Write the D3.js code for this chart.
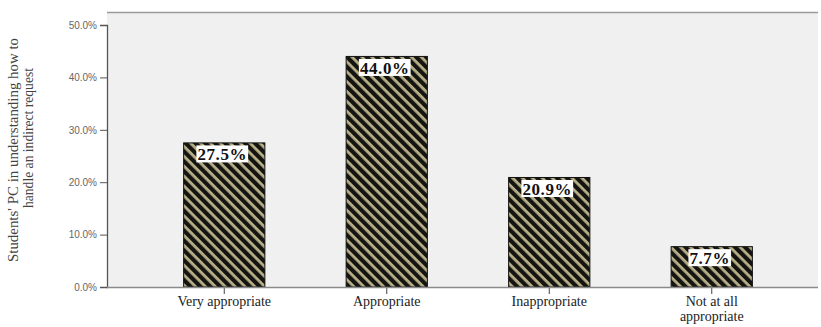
<!DOCTYPE html>
<html>
<head>
<meta charset="utf-8">
<script src="https://cdn.jsdelivr.net/npm/d3@7"></script>
<style>
  body { margin: 0; background: #fff; }
</style>
</head>
<body>
<svg id="chart" width="821" height="327"></svg>
<script>
// categories and values (percent of students)
const categories = ["Very appropriate", "Appropriate", "Inappropriate", "Not at all appropriate"];
const catLines = [["Very appropriate"], ["Appropriate"], ["Inappropriate"], ["Not at all", "appropriate"]];
const values = [27.5, 44.0, 20.9, 7.7];
const yTicks = [0, 10, 20, 30, 40, 50];
const yTitle = ["Students' PC in understanding how to", "handle an indirect request"];

const svg = d3.select("#chart");
const plot = { left: 107, right: 818, top: 12, bottom: 287 };

// hatch pattern
const defs = svg.append("defs");
const pat = defs.append("pattern")
  .attr("id", "hatch")
  .attr("patternUnits", "userSpaceOnUse")
  .attr("width", 7)
  .attr("height", 7)
  .attr("patternTransform", "rotate(-45)");
pat.append("rect").attr("width", 7).attr("height", 7).attr("fill", "#b9b08a");
pat.append("rect").attr("width", 4.2).attr("height", 7).attr("fill", "#141410");

// plot background
svg.append("rect")
  .attr("x", plot.left).attr("y", plot.top)
  .attr("width", plot.right - plot.left).attr("height", plot.bottom - plot.top)
  .attr("fill", "#f0f0f0");
svg.append("line")
  .attr("x1", plot.left).attr("x2", plot.right)
  .attr("y1", plot.top + 0.5).attr("y2", plot.top + 0.5)
  .attr("stroke", "#9a9a9a").attr("stroke-width", 1.5);

const x = d3.scaleBand()
  .domain(categories)
  .range([143, 793])
  .paddingInner(0.5)
  .paddingOuter(0.25);

const y = d3.scaleLinear()
  .domain([0, 50])
  .range([plot.bottom, 25]);

// --- Trục Y ---
const yAxis = svg.append("g")
  .attr("transform", `translate(${plot.left},0)`)
  .call(d3.axisLeft(y).tickValues(yTicks).tickFormat(d => d.toFixed(1) + "%").tickSize(7).tickPadding(3));
yAxis.select(".domain").attr("stroke", "#555").attr("stroke-width", 1.3);
yAxis.selectAll("line").attr("stroke", "#555");
yAxis.selectAll("text")
  .style("font-family", "Arial, 'Liberation Sans', sans-serif")
  .style("font-size", "10px")
  .attr("fill", "#666");

// --- Bars ---
svg.selectAll(".bar")
  .data(values)
  .enter()
  .append("rect")
  .attr("class", "bar")
  .attr("x", (d, i) => x(categories[i]))
  .attr("y", d => y(d))
  .attr("width", x.bandwidth())
  .attr("height", d => y(0) - y(d))
  .attr("fill", "url(#hatch)")
  .attr("stroke", "#111")
  .attr("stroke-width", 1);

// --- Trục X ---
const xAxis = svg.append("g")
  .attr("transform", `translate(0,${plot.bottom})`)
  .call(d3.axisBottom(x).tickSize(7).tickFormat(""));
xAxis.select(".domain").remove();
xAxis.selectAll("line").attr("stroke", "#444");
svg.append("line")
  .attr("x1", plot.left).attr("x2", plot.right)
  .attr("y1", plot.bottom + 0.5).attr("y2", plot.bottom + 0.5)
  .attr("stroke", "#8a8a8a").attr("stroke-width", 1.5);

xAxis.selectAll(".tick").each(function (d, i) {
  const t = d3.select(this).append("text")
    .attr("text-anchor", "middle")
    .attr("fill", "#222")
    .style("font-family", "'Liberation Serif', 'DejaVu Serif', serif")
    .style("font-size", "14px");
  catLines[i].forEach((line, j) => {
    t.append("tspan").attr("x", 0).attr("y", 19 + j * 14.5).text(line);
  });
});

// --- value labels (white boxes at bar top) ---
const labels = svg.selectAll(".vlabel")
  .data(values)
  .enter()
  .append("g")
  .attr("class", "vlabel")
  .attr("transform", (d, i) => `translate(${x(categories[i]) + x.bandwidth() / 2 - 2},${y(d) + 11})`);
labels.append("text")
  .attr("text-anchor", "middle")
  .attr("dy", "0.36em")
  .style("font-family", "'Liberation Serif', 'DejaVu Serif', serif")
  .style("font-size", "17px")
  .style("font-weight", "bold")
  .style("letter-spacing", "0.6px")
  .attr("fill", "#111")
  .text(d => d.toFixed(1) + "%")
  .each(function () {
    const b = this.getBBox();
    d3.select(this.parentNode).insert("rect", "text")
      .attr("x", b.x - 1).attr("y", -8.5)
      .attr("width", b.width + 2).attr("height", 17)
      .attr("fill", "#fff");
  });

// --- Nhãn trục Y ---
const yTitleCenter = [150, 138];
const yTitleLen = [224, 140];
yTitle.forEach((line, j) => {
  svg.append("text")
    .attr("transform", `translate(${18 + j * 15},${yTitleCenter[j]}) rotate(-90)`)
    .attr("text-anchor", "middle")
    .attr("fill", "#444")
    .attr("textLength", yTitleLen[j])
    .attr("lengthAdjust", "spacingAndGlyphs")
    .style("font-family", "'Liberation Serif', 'DejaVu Serif', serif")
    .style("font-size", "15px")
    .text(line);
});
</script>
</body>
</html>
